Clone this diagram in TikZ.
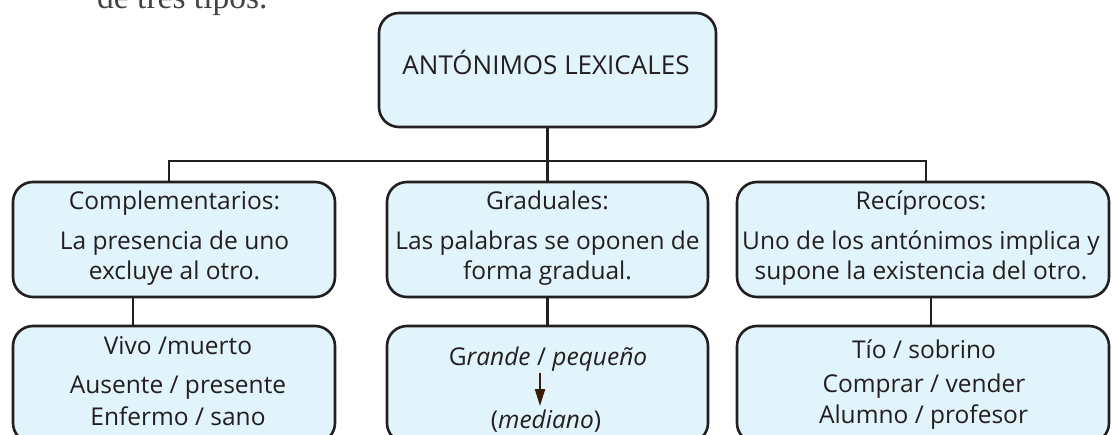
\documentclass[tikz,border=0pt]{standalone}
\usepackage{fontspec}
\usetikzlibrary{arrows.meta}
\newfontfamily\diafont{Open Sans}
\newfontfamily\bodyfont{Liberation Serif}
\definecolor{boxfill}{HTML}{E1F3FB}
\definecolor{ink}{HTML}{231F20}
\definecolor{arrowc}{HTML}{3A1C0A}
\begin{document}
\begin{tikzpicture}[x=1pt,y=-1pt,
  box/.style={draw=ink, fill=boxfill, line width=2.6pt, rounded corners=20pt, inner sep=0pt},
  conn/.style={draw=ink, line width=2.6pt},
  txt/.style={anchor=base, inner sep=0pt, text=ink, font=\diafont\fontsize{24.5}{24.5}\selectfont}]
\useasboundingbox (0,0) rectangle (1113,435);
\clip (0,0) rectangle (1113,435);
% cut-off text above
\node[anchor=base west, inner sep=0pt, text=ink!85, font=\bodyfont\fontsize{33.5}{33.5}\selectfont] (prev) at (97,9) {de tres tipos.};
% boxes
\node[box, minimum width=337pt, minimum height=114pt] (top) at (547.5,70) {};
\node[box, minimum width=322pt, minimum height=115pt] (mL) at (174,239.5) {};
\node[box, minimum width=321pt, minimum height=115pt] (mM) at (547.5,239.5) {};
\node[box, minimum width=372pt, minimum height=115pt] (mR) at (923,239.5) {};
\node[box, minimum width=322pt, minimum height=117pt] (lL) at (174,384.5) {};
\node[box, minimum width=321pt, minimum height=117pt] (lM) at (547.5,384.5) {};
\node[box, minimum width=372pt, minimum height=117pt] (lR) at (923,384.5) {};
% connectors
\coordinate (bar) at (547.5,161);
\draw[conn] (top.south) -- (mM.north);
\draw[conn] ([xshift=-5pt]mL.north) |- (bar) -| ([xshift=3pt]mR.north);
\draw[conn] ([xshift=-41pt]mL.south) -- ([xshift=-41pt]lL.north);
\draw[conn] (mM.south) -- (lM.north);
\draw[conn] ([xshift=8pt]mR.south) -- ([xshift=8pt]lR.north);
% texts
\node[txt, font=\diafont\fontsize{26}{26}\selectfont] (t0) at (546,75) {ANTÓNIMOS LEXICALES};
\node[txt] (tL1) at (174.5,210) {Complementarios:};
\node[txt] (tL2) at (174.5,250) {La presencia de uno};
\node[txt] (tL3) at (174.5,280) {excluye al otro.};
\node[txt] (tM1) at (547.5,210) {Graduales:};
\node[txt] (tM2) at (547.5,250) {Las palabras se oponen de};
\node[txt] (tM3) at (547.5,280) {forma gradual.};
\node[txt] (tR1) at (921,210) {Recíprocos:};
\node[txt] (tR2) at (921,250) {Uno de los antónimos implica y};
\node[txt] (tR3) at (921,280) {supone la existencia del otro.};
\node[txt] (bL1) at (178,355) {Vivo /muerto};
\node[txt] (bL2) at (178,393) {Ausente / presente};
\node[txt] (bL3) at (178,425) {Enfermo / sano};
\node[txt] (bM1) at (548,366) {G\textit{rande} / \textit{pequeño}};
\node[txt] (bM2) at (546,428) {(\textit{mediano})};
\coordinate (aS) at (540,373);
\coordinate (aE) at (540,406);
\draw[draw=arrowc, line width=2pt, -{Triangle[width=10pt,length=17pt]}] (aS) -- (aE);
\node[txt] (bR1) at (924,358) {Tío / sobrino};
\node[txt] (bR2) at (924,392) {Comprar / vender};
\node[txt] (bR3) at (923.5,423) {Alumno / profesor};
\end{tikzpicture}
\end{document}
